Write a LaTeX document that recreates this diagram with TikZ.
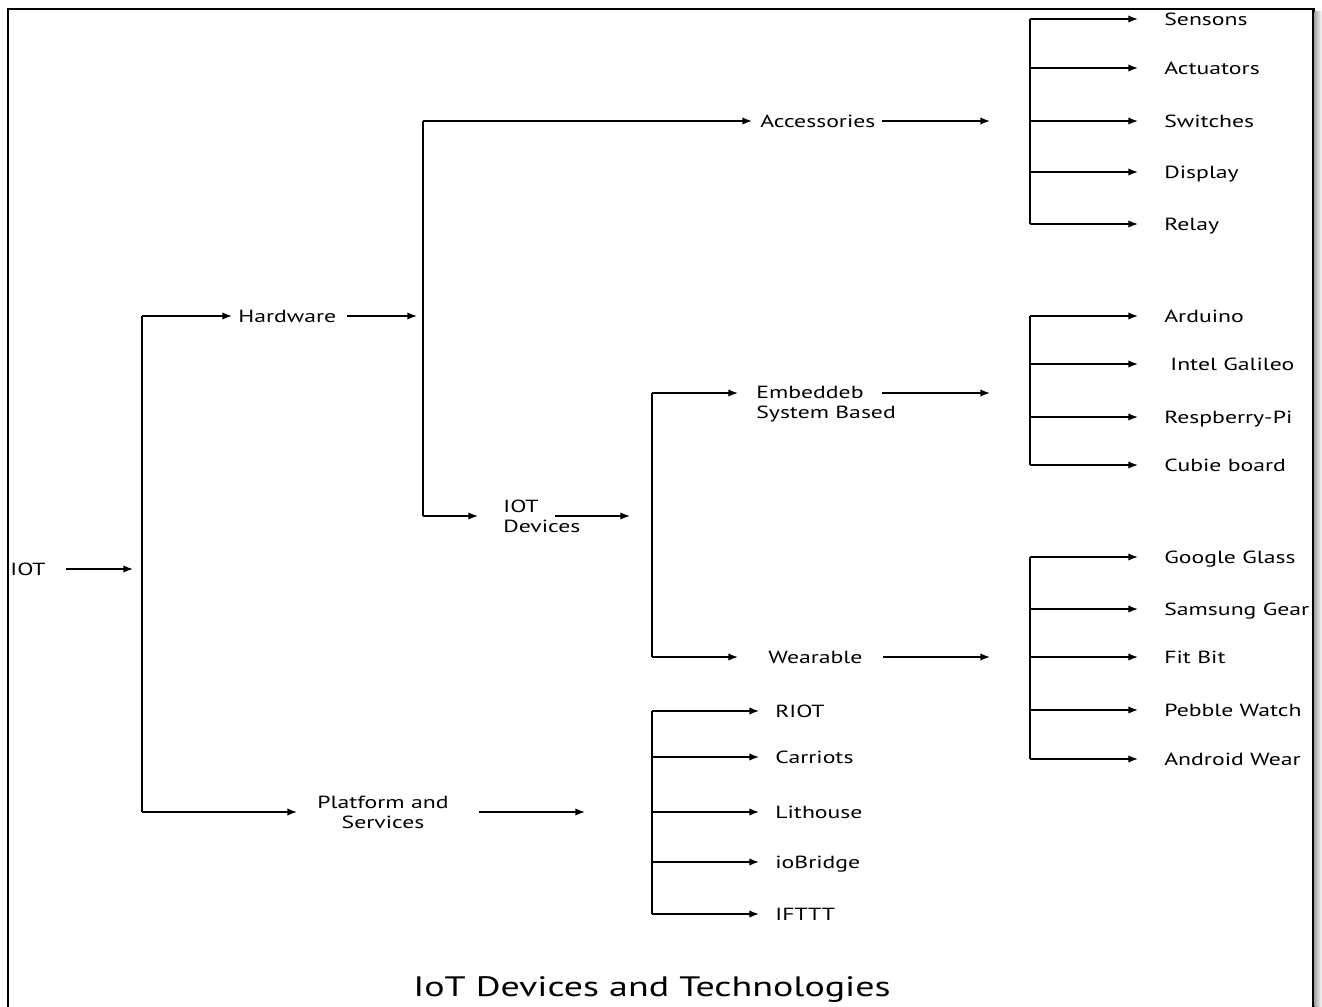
\documentclass[tikz,border=0pt]{standalone}
\usepackage{fontspec}
\setmainfont{PT Sans}[FakeStretch=1.35]
\usetikzlibrary{arrows.meta}

\tikzset{
  wire/.style={line width=0.85pt},
  arr/.style={wire,-{Latex[length=5.5pt,width=4.2pt]}},
  lbl/.style={anchor=west,inner sep=0pt,font=\fontsize{10}{11.4}\selectfont,
    text height=1.4ex,text depth=0pt},
  twolbl/.style={inner sep=0pt,font=\fontsize{10}{11.4}\selectfont,align=left},
}

\begin{document}
\begin{tikzpicture}[x=0.02cm,y=-0.02cm]
  \useasboundingbox (0,0) rectangle (1322,1007);
  % Frame
  \draw[line width=1.7pt] (8,1012) -- (8,9) -- (1313,9) -- (1313,1012);
  \shade[left color=gray!70,right color=white] (1314.5,12) rectangle (1322,1007);

  % Bus positions
  \coordinate (busA) at (142,0);
  \coordinate (busB) at (423,0);
  \coordinate (busC) at (652,0);
  \coordinate (busD) at (1030,0);
  \coordinate (tipD) at (1138,0);
  \coordinate (tipP) at (759,0);
  \coordinate (embRow) at (0,393);

  % Root
  \node[lbl] (iot) at (10,569) {IOT};
  \node[lbl] (hw) at (238,316) {Hardware};
  \node[twolbl,align=center] (plat) at (383,812) {Platform and\\Services};
  \draw[arr] ([xshift=0.4cm]iot.east) -- ([xshift=-0.18cm]busA |- iot);
  \draw[wire] (busA |- hw) -- (busA |- plat);
  \draw[arr] (busA |- hw) -- ([xshift=-0.12cm]hw.west);
  \draw[arr] (busA |- plat) -- ([xshift=-0.4cm]plat.west);
  \draw[arr] ([xshift=0.2cm]hw.east) -- ([xshift=-0.12cm]busB |- hw);
  \draw[arr] ([xshift=0.6cm]plat.east) -- ([xshift=-1.34cm]busC |- plat);

  % Hardware
  \node[lbl] (acc) at (760,121) {Accessories};
  \node[twolbl,anchor=west] (dev) at (503,516) {IOT\\Devices};
  \draw[wire] (busB |- acc) -- (busB |- dev);
  \draw[arr] (busB |- acc) -- ([xshift=-0.16cm]acc.west);
  \draw[arr] (busB |- dev) -- ([xshift=-0.5cm]dev.west);
  \draw[arr] ([xshift=0.12cm]acc.east) -- ([xshift=-0.8cm]busD |- acc);
  \draw[arr] ([xshift=1.04cm]dev.west) -- ([xshift=-0.44cm]busC |- dev);

  % IOT Devices
  \node[twolbl,anchor=west] (emb) at (756,404) {Embeddeb\\System Based};
  \node[lbl] (wear) at (768,657) {Wearable};
  \draw[wire] (busC |- embRow) -- (busC |- wear);
  \draw[arr] (busC |- embRow) -- ([xshift=-0.36cm]emb.west |- embRow);
  \draw[arr] (busC |- wear) -- ([xshift=-0.6cm]wear.west);
  \draw[arr] ([xshift=2.52cm]emb.west |- embRow) -- ([xshift=-0.8cm]busD |- embRow);
  \draw[arr] ([xshift=0.4cm]wear.east) -- ([xshift=-0.8cm]busD |- wear);

  % Accessories
  \node[lbl] (sen) at (1164,19) {Sensons};
  \node[lbl] (act) at (1164,68) {Actuators};
  \node[lbl] (swi) at (1164,121) {Switches};
  \node[lbl] (dsp) at (1164,172) {Display};
  \node[lbl] (rel) at (1164,224) {Relay};
  \draw[wire] (busD |- sen) -- (busD |- rel);
  \draw[arr] (busD |- sen) -- (tipD |- sen);
  \draw[arr] (busD |- act) -- (tipD |- act);
  \draw[arr] (busD |- swi) -- (tipD |- swi);
  \draw[arr] (busD |- dsp) -- (tipD |- dsp);
  \draw[arr] (busD |- rel) -- (tipD |- rel);

  % Embedded boards
  \node[lbl] (ard) at (1164,316) {Arduino};
  \node[lbl] (gal) at (1170,364) {Intel Galileo};
  \node[lbl] (rsp) at (1164,417) {Respberry-Pi};
  \node[lbl] (cub) at (1164,465) {Cubie board};
  \draw[wire] (busD |- ard) -- (busD |- cub);
  \draw[arr] (busD |- ard) -- (tipD |- ard);
  \draw[arr] (busD |- gal) -- (tipD |- gal);
  \draw[arr] (busD |- rsp) -- (tipD |- rsp);
  \draw[arr] (busD |- cub) -- (tipD |- cub);

  % Wearables
  \node[lbl] (ggl) at (1164,557) {Google Glass};
  \node[lbl] (sam) at (1164,609) {Samsung Gear};
  \node[lbl] (fit) at (1164,657) {Fit Bit};
  \node[lbl] (peb) at (1164,710) {Pebble Watch};
  \node[lbl] (adw) at (1164,759) {Android Wear};
  \draw[wire] (busD |- ggl) -- (busD |- adw);
  \draw[arr] (busD |- ggl) -- (tipD |- ggl);
  \draw[arr] (busD |- sam) -- (tipD |- sam);
  \draw[arr] (busD |- fit) -- (tipD |- fit);
  \draw[arr] (busD |- peb) -- (tipD |- peb);
  \draw[arr] (busD |- adw) -- (tipD |- adw);

  % Platforms
  \node[lbl] (riot) at (775,711) {RIOT};
  \node[lbl] (car) at (775,757) {Carriots};
  \node[lbl] (lit) at (775,812) {Lithouse};
  \node[lbl] (iob) at (775,862) {ioBridge};
  \node[lbl] (ift) at (775,914) {IFTTT};
  \draw[wire] (busC |- riot) -- (busC |- ift);
  \draw[arr] (busC |- riot) -- (tipP |- riot);
  \draw[arr] (busC |- car) -- (tipP |- car);
  \draw[arr] (busC |- lit) -- (tipP |- lit);
  \draw[arr] (busC |- iob) -- (tipP |- iob);
  \draw[arr] (busC |- ift) -- (tipP |- ift);

  % Caption
  \node[font=\fontsize{16}{18}\selectfont] (title) at (652,990) {IoT Devices and Technologies};
\end{tikzpicture}
\end{document}
